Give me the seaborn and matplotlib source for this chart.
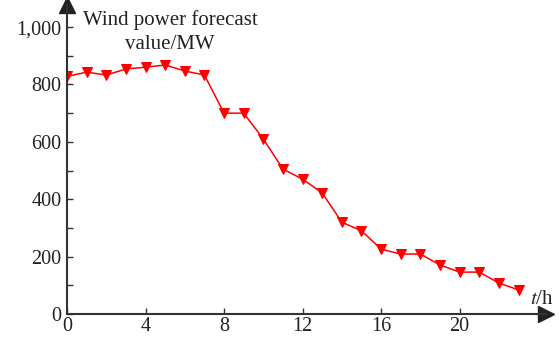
import matplotlib
matplotlib.use("Agg")
import matplotlib.pyplot as plt
import seaborn as sns
import pandas as pd
from matplotlib.ticker import MultipleLocator

hours = list(range(24))
power = [828, 843, 833, 854, 860, 868, 847, 833, 700, 700, 610, 505,
         470, 422, 320, 290, 226, 209, 209, 171, 146, 146, 108, 84]
xticks = [0, 4, 8, 12, 16, 20]
yticks = [0, 200, 400, 600, 800, 1000]
ytick_labels = ["0", "200", "400", "600", "800", "1,000"]

sns.set_style("white")
plt.rcParams["font.family"] = ["Liberation Serif", "DejaVu Serif"]
plt.rcParams["mathtext.fontset"] = "stix"

df = pd.DataFrame({"t": hours, "p": power})

fig = plt.figure(figsize=(5.59, 3.37), dpi=100)
ax = fig.add_axes([67 / 559, 23 / 337, 479 / 559, 309 / 337])

sns.lineplot(data=df, x="t", y="p", ax=ax, color="#ff0000", marker="v",
             markersize=7, markeredgecolor="#ff0000", linewidth=1.1)

ax.set_xlim(0, 24.4)
ax.set_ylim(0, 1077)
ax.set_xticks(xticks)
ax.set_yticks(yticks)
ax.set_yticklabels(ytick_labels)
ax.yaxis.set_minor_locator(MultipleLocator(100))
ax.tick_params(axis="both", which="both", direction="in", length=4,
               width=1, color="#333333", labelsize=14.5,
               labelcolor="#222222")
ax.tick_params(axis="y", which="both", left=True, pad=4)
ax.tick_params(axis="x", which="major", bottom=True, pad=2)
ax.set_xlabel("")
ax.set_ylabel("")

for s in ["top", "right"]:
    ax.spines[s].set_visible(False)
for s in ["left", "bottom"]:
    ax.spines[s].set_color("#333333")
    ax.spines[s].set_linewidth(1.5)

ax.plot(1, 0, marker=">", color="#222222", markersize=11,
        transform=ax.get_yaxis_transform(), clip_on=False)
ax.plot(0, 1, marker="^", color="#222222", markersize=11,
        transform=ax.get_xaxis_transform(), clip_on=False)

fig.text(170 / 559, 1 - 32 / 337, "Wind power forecast\nvalue/MW",
         ha="center", va="center", fontsize=15, color="#222222",
         linespacing=1.3)
fig.text(542 / 559, 1 - 299 / 337, "$t$/h", ha="center", va="center",
         fontsize=15, color="#222222")

fig.savefig("out.png", dpi=100)
